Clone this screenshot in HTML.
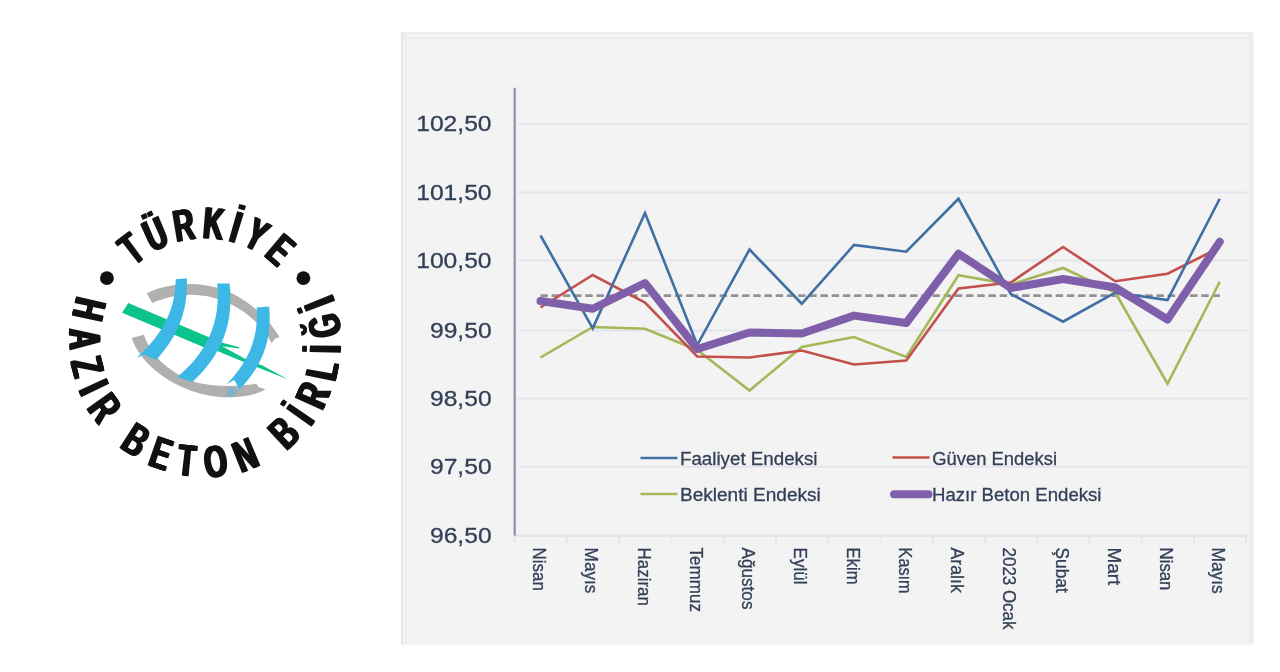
<!DOCTYPE html>
<html lang="tr"><head><meta charset="utf-8"><title>Hazır Beton Endeksi</title>
<style>
html,body{margin:0;padding:0;background:#fff;}
body{width:1280px;height:672px;position:relative;overflow:hidden;font-family:"Liberation Sans",sans-serif;}
svg{display:block;}
svg text{font-family:"Liberation Sans",sans-serif;}
.chart text{stroke:#323f56;stroke-width:0.3px;}
.logo{position:absolute;left:0;top:0;width:400px;height:672px;margin:0;}
.chart{position:absolute;left:400px;top:0;width:880px;height:672px;margin:0;}
</style></head><body>
<figure class="chart">
<svg width="880" height="672" viewBox="400 0 880 672" role="img" aria-label="Hazır Beton Endeksi">
<rect x="401" y="32.2" width="853" height="612.5" fill="#f3f3f3"/>
<line x1="401" y1="33" x2="1254" y2="33" stroke="#e7e8e8" stroke-width="1.6"/>
<line x1="402" y1="32.2" x2="402" y2="644.7" stroke="#e5e5e5" stroke-width="2"/>
<line x1="403" y1="38.3" x2="1252" y2="38.3" stroke="#e9e9e9" stroke-width="1.5"/>
<line x1="405.6" y1="34" x2="405.6" y2="643" stroke="#ececec" stroke-width="1.4"/>
<line x1="1250.5" y1="34" x2="1250.5" y2="643" stroke="#e9ecea" stroke-width="3"/>
<rect x="516" y="90" width="731" height="446" fill="#f3f3f4"/>
<line x1="518" y1="123.75" x2="1247" y2="123.75" stroke="#e4e5ec" stroke-width="2.2"/>
<line x1="518" y1="192.5" x2="1247" y2="192.5" stroke="#e4e5ec" stroke-width="2.2"/>
<line x1="518" y1="260.5" x2="1247" y2="260.5" stroke="#e4e5ec" stroke-width="2.2"/>
<line x1="518" y1="330.5" x2="1247" y2="330.5" stroke="#e4e5ec" stroke-width="2.2"/>
<line x1="518" y1="398.5" x2="1247" y2="398.5" stroke="#e4e5ec" stroke-width="2.2"/>
<line x1="518" y1="466.75" x2="1247" y2="466.75" stroke="#e4e5ec" stroke-width="2.2"/>
<line x1="514" y1="535.75" x2="1246" y2="535.75" stroke="#e3e4ec" stroke-width="2.5"/>
<line x1="514.75" y1="535" x2="514.75" y2="543.5" stroke="#e6e7ee" stroke-width="2"/>
<line x1="567.00" y1="535" x2="567.00" y2="543.5" stroke="#e6e7ee" stroke-width="2"/>
<line x1="619.25" y1="535" x2="619.25" y2="543.5" stroke="#e6e7ee" stroke-width="2"/>
<line x1="671.50" y1="535" x2="671.50" y2="543.5" stroke="#e6e7ee" stroke-width="2"/>
<line x1="723.75" y1="535" x2="723.75" y2="543.5" stroke="#e6e7ee" stroke-width="2"/>
<line x1="776.00" y1="535" x2="776.00" y2="543.5" stroke="#e6e7ee" stroke-width="2"/>
<line x1="828.25" y1="535" x2="828.25" y2="543.5" stroke="#e6e7ee" stroke-width="2"/>
<line x1="880.50" y1="535" x2="880.50" y2="543.5" stroke="#e6e7ee" stroke-width="2"/>
<line x1="932.75" y1="535" x2="932.75" y2="543.5" stroke="#e6e7ee" stroke-width="2"/>
<line x1="985.00" y1="535" x2="985.00" y2="543.5" stroke="#e6e7ee" stroke-width="2"/>
<line x1="1037.25" y1="535" x2="1037.25" y2="543.5" stroke="#e6e7ee" stroke-width="2"/>
<line x1="1089.50" y1="535" x2="1089.50" y2="543.5" stroke="#e6e7ee" stroke-width="2"/>
<line x1="1141.75" y1="535" x2="1141.75" y2="543.5" stroke="#e6e7ee" stroke-width="2"/>
<line x1="1194.00" y1="535" x2="1194.00" y2="543.5" stroke="#e6e7ee" stroke-width="2"/>
<line x1="1246.25" y1="535" x2="1246.25" y2="543.5" stroke="#e6e7ee" stroke-width="2"/>
<line x1="514.7" y1="87.8" x2="514.7" y2="535.5" stroke="#8a92a6" stroke-width="2.2"/>
<text x="416.20" y="131.35" font-size="22.9" fill="#323f56" textLength="75.4" lengthAdjust="spacingAndGlyphs">102,50</text>
<text x="416.20" y="200.10" font-size="22.9" fill="#323f56" textLength="75.4" lengthAdjust="spacingAndGlyphs">101,50</text>
<text x="416.20" y="268.10" font-size="22.9" fill="#323f56" textLength="75.4" lengthAdjust="spacingAndGlyphs">100,50</text>
<text x="430.00" y="338.10" font-size="22.9" fill="#323f56" textLength="61.6" lengthAdjust="spacingAndGlyphs">99,50</text>
<text x="430.00" y="406.10" font-size="22.9" fill="#323f56" textLength="61.6" lengthAdjust="spacingAndGlyphs">98,50</text>
<text x="430.00" y="474.35" font-size="22.9" fill="#323f56" textLength="61.6" lengthAdjust="spacingAndGlyphs">97,50</text>
<text x="430.00" y="543.35" font-size="22.9" fill="#323f56" textLength="61.6" lengthAdjust="spacingAndGlyphs">96,50</text>
<line x1="540.5" y1="295.6" x2="1220" y2="295.6" stroke="#919197" stroke-width="2.8" stroke-dasharray="7.4 3.8"/>
<polyline points="540.50,357.50 592.75,327.00 645.00,328.75 697.25,350.00 749.50,390.50 801.75,347.00 854.00,337.00 906.25,357.00 958.50,275.25 1010.75,284.50 1063.00,268.00 1115.25,292.50 1167.50,383.75 1219.75,281.75" fill="none" stroke="#a3b857" stroke-width="2.6" stroke-linejoin="miter"/>
<polyline points="540.50,307.50 592.75,275.00 645.00,302.50 697.25,356.50 749.50,357.50 801.75,350.50 854.00,364.50 906.25,360.50 958.50,288.50 1010.75,282.50 1063.00,247.00 1115.25,281.25 1167.50,273.75 1219.75,247.50" fill="none" stroke="#c3504c" stroke-width="2.6" stroke-linejoin="miter"/>
<polyline points="540.50,235.50 592.75,328.30 645.00,213.00 697.25,345.00 749.50,249.50 801.75,303.75 854.00,245.00 906.25,251.75 958.50,198.75 1010.75,294.00 1063.00,321.75 1115.25,292.50 1167.50,300.00 1219.75,198.75" fill="none" stroke="#3f6fa3" stroke-width="2.6" stroke-linejoin="miter"/>
<polyline points="540.50,301.00 592.75,308.75 645.00,283.00 697.25,349.00 749.50,332.50 801.75,333.50 854.00,315.60 906.25,323.00 958.50,253.75 1010.75,288.00 1063.00,279.00 1115.25,287.50 1167.50,319.50 1219.75,241.75" fill="none" stroke="#7f5fa9" stroke-width="8" stroke-linejoin="round" stroke-linecap="round"/>
<line x1="640.5" y1="458" x2="677.5" y2="458" stroke="#3f6fa3" stroke-width="2.5"/>
<text x="680" y="464.6" font-size="18.8" fill="#323f56" textLength="137.5" lengthAdjust="spacingAndGlyphs">Faaliyet Endeksi</text>
<line x1="640.5" y1="494" x2="677.5" y2="494" stroke="#a3b857" stroke-width="2.5"/>
<text x="680" y="500.6" font-size="18.8" fill="#323f56" textLength="140.75" lengthAdjust="spacingAndGlyphs">Beklenti Endeksi</text>
<line x1="892.5" y1="457.5" x2="929.5" y2="457.5" stroke="#c3504c" stroke-width="2.5"/>
<text x="932.2" y="464.6" font-size="18.8" fill="#323f56" textLength="124.8" lengthAdjust="spacingAndGlyphs">Güven Endeksi</text>
<line x1="894" y1="494.25" x2="928.5" y2="494.25" stroke="#7f5fa9" stroke-width="8" stroke-linecap="round"/>
<text x="932" y="500.6" font-size="18.8" fill="#323f56" textLength="169.5" lengthAdjust="spacingAndGlyphs">Hazır Beton Endeksi</text>
<text transform="translate(533.00 547.6) rotate(90)" font-size="17.8" fill="#323f56" textLength="43.35" lengthAdjust="spacingAndGlyphs">Nisan</text>
<text transform="translate(585.25 547.6) rotate(90)" font-size="17.8" fill="#323f56" textLength="45.85" lengthAdjust="spacingAndGlyphs">Mayıs</text>
<text transform="translate(637.50 547.6) rotate(90)" font-size="17.8" fill="#323f56" textLength="58.35" lengthAdjust="spacingAndGlyphs">Haziran</text>
<text transform="translate(689.75 547.6) rotate(90)" font-size="17.8" fill="#323f56" textLength="64.35" lengthAdjust="spacingAndGlyphs">Temmuz</text>
<text transform="translate(742.00 547.6) rotate(90)" font-size="17.8" fill="#323f56" textLength="61.85" lengthAdjust="spacingAndGlyphs">Ağustos</text>
<text transform="translate(794.25 547.6) rotate(90)" font-size="17.8" fill="#323f56" textLength="36.85" lengthAdjust="spacingAndGlyphs">Eylül</text>
<text transform="translate(846.50 547.6) rotate(90)" font-size="17.8" fill="#323f56" textLength="36.85" lengthAdjust="spacingAndGlyphs">Ekim</text>
<text transform="translate(898.75 547.6) rotate(90)" font-size="17.8" fill="#323f56" textLength="45.85" lengthAdjust="spacingAndGlyphs">Kasım</text>
<text transform="translate(951.00 547.6) rotate(90)" font-size="17.8" fill="#323f56" textLength="45.1" lengthAdjust="spacingAndGlyphs">Aralık</text>
<text transform="translate(1003.25 547.6) rotate(90)" font-size="17.8" fill="#323f56" textLength="81.85" lengthAdjust="spacingAndGlyphs">2023 Ocak</text>
<text transform="translate(1055.50 547.6) rotate(90)" font-size="17.8" fill="#323f56" textLength="45.1" lengthAdjust="spacingAndGlyphs">Şubat</text>
<text transform="translate(1107.75 547.6) rotate(90)" font-size="17.8" fill="#323f56" textLength="37.6" lengthAdjust="spacingAndGlyphs">Mart</text>
<text transform="translate(1160.00 547.6) rotate(90)" font-size="17.8" fill="#323f56" textLength="42.85" lengthAdjust="spacingAndGlyphs">Nisan</text>
<text transform="translate(1212.25 547.6) rotate(90)" font-size="17.8" fill="#323f56" textLength="46.1" lengthAdjust="spacingAndGlyphs">Mayıs</text>
</svg>
</figure>
<header class="logo">
<svg width="400" height="672" viewBox="0 0 400 672" role="img" aria-label="Türkiye Hazır Beton Birliği">
<circle cx="106.9" cy="278.2" r="6.9" fill="#111"/>
<circle cx="303.4" cy="278.2" r="6.9" fill="#111"/>
<path id="arcTop" fill="none" d="M 205.2 444.3 A 102.8 102.8 0 1 1 205.2 238.7 A 102.8 102.8 0 1 1 205.2 444.3"/>
<path id="arcBot" fill="none" d="M 205.2 205.7 A 135.8 135.8 0 1 0 205.2 477.3 A 135.8 135.8 0 1 0 205.2 205.7"/>
<text id="ttop" transform="rotate(2.05 205.2 341.5)" font-size="45.2" font-weight="bold" fill="#111" style="letter-spacing:9.08px"><textPath href="#arcTop" startOffset="50%" text-anchor="middle" textLength="163.57" lengthAdjust="spacingAndGlyphs">TÜRKİYE</textPath></text>
<text id="tbot" dx="3 1.5 0.2 -0.7 0 0 -3.5 0 -0.8 1.6 1.3 0 -3.9 1.3 0 -2.4 -0.8 -1.6 -1.6" transform="rotate(-1.77 205.2 341.5)" font-size="45.2" font-weight="bold" fill="#111" style="letter-spacing:18.78px"><textPath href="#arcBot" startOffset="50%" text-anchor="middle" textLength="533.9" lengthAdjust="spacingAndGlyphs">HAZIR BETON BİRLİĞİ</textPath></text>
<use href="#ttop" transform="rotate(-0.62 205.2 341.5)"/>
<use href="#tbot" transform="rotate(-0.62 205.2 341.5)"/>
<use href="#ttop" transform="rotate(0.62 205.2 341.5)"/>
<use href="#tbot" transform="rotate(0.62 205.2 341.5)"/>
<g transform="translate(115 270) scale(0.208333)">
<path d="M152,112 C250,62 400,50 520,95 C640,140 735,230 790,322 L768,330 L752,352 C700,255 620,190 520,148 C410,105 290,110 179,158 Z" fill="#b0b0ae"/>
<path d="M80,326 C115,430 230,540 400,590 C520,625 650,615 722,573 L690,563 L678,546 C600,558 500,564 400,543 C270,500 175,420 139,311 Z" fill="#b0b0ae"/>
<path d="M64,158 L500,343 L472,390 L34,205 Z" fill="#0cc48b"/>
<path d="M494,343 L597,371 L595,377 L515,366 L622,425 L708,458 L829,524 L686,468 L569,421 L480,384 Z" fill="#0cc48b"/>
<path d="M291,44 L345,40 C350,170 320,300 198,432 L140,406 L104,423 L128,398 C232,300 292,180 291,44 Z" fill="#3db8e6"/>
<path d="M490,65 L550,65 C570,250 520,400 372,538 L298,514 C440,400 510,250 490,65 Z" fill="#3db8e6"/>
<path d="M680,180 L740,175 C755,330 710,460 598,572 L572,528 L537,548 C640,440 690,330 680,180 Z" fill="#3db8e6"/>
<path d="M543,560 L597,573 L562,613 L532,601 Z" fill="#3db8e6" opacity="0.4"/>
</g>
</svg>
</header>
</body></html>
